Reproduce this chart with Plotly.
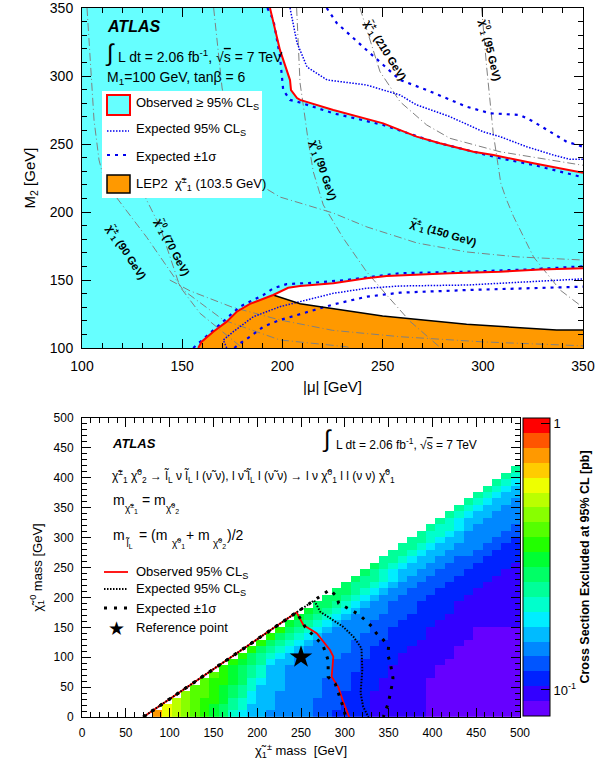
import math
import plotly.graph_objects as go

W, H = 611, 767

# ---------------- TOP PANEL DATA (|mu|, M2 in GeV) ----------------
obs_up_mu = [193.8, 198.8, 203.8, 204.3, 207.3, 208.8, 225.4, 250.3, 267.0, 278.6, 295.3, 305.3, 325.3, 338.6, 350.0]
obs_up_m2 = [350.0, 319.0, 297.0, 289.7, 283.8, 282.4, 275.0, 265.2, 255.4, 250.5, 244.3, 241.9, 235.8, 232.1, 228.9]

obs_lo_mu = [158.0, 159.7, 165.5, 172.2, 177.2, 183.8, 195.4, 202.9, 208.8, 225.4, 242.0, 252.0, 283.6, 308.6, 328.6, 350.0]
obs_lo_m2 = [100.0, 104.6, 112.0, 119.4, 126.7, 132.4, 139.0, 144.3, 145.6, 147.6, 151.3, 153.0, 155.0, 156.1, 157.8, 158.6]
APEX = 6  # index of the LEP2 corner on the lower observed line

lep_mu = [195.4, 208.8, 250.0, 291.9, 336.8, 350.0]
lep_m2 = [139.0, 132.5, 123.5, 117.4, 113.2, 113.2]

exp_up_mu = [203.8, 207.3, 212.3, 222.3, 242.0, 258.7, 267.0, 283.6, 300.2, 308.6, 321.9, 335.2, 343.5, 350.0]
exp_up_m2 = [350.0, 324.3, 306.6, 297.1, 293.4, 286.0, 278.7, 270.1, 259.0, 255.4, 248.0, 241.9, 238.7, 238.7]

sig_up_out_mu = [222.1, 227.1, 242.0, 258.7, 272.0, 292.0, 303.6, 318.6, 325.3, 333.5, 341.8, 350.0]
sig_up_out_m2 = [350.0, 339.0, 319.1, 297.1, 289.7, 277.4, 272.6, 271.3, 266.4, 259.0, 251.7, 248.0]
sig_up_in_mu = [192.5, 195.5, 198.8, 200.4, 203.8, 208.8, 225.4, 250.3, 275.3, 292.0, 308.6, 325.3, 348.5, 350.0]
sig_up_in_m2 = [350.0, 341.2, 314.2, 289.7, 282.4, 280.5, 272.6, 264.0, 251.7, 245.6, 239.5, 234.6, 226.0, 225.5]

exp_lo_mu = [172.2, 170.5, 175.5, 185.5, 198.8, 207.1, 225.4, 242.0, 258.7, 292.0, 325.3, 341.8, 350.0]
exp_lo_m2 = [100.0, 105.9, 112.0, 123.0, 130.4, 133.3, 140.2, 143.9, 145.6, 146.3, 148.8, 150.5, 150.8]
sig_lo_out_mu = [155.5, 165.5, 172.2, 178.8, 190.5, 195.5, 202.1, 215.4, 232.1, 245.4, 258.7, 292.0, 325.3, 350.0]
sig_lo_out_m2 = [100.0, 113.2, 121.8, 130.4, 139.0, 143.9, 147.0, 148.0, 150.0, 152.4, 155.0, 156.1, 157.9, 160.1]
sig_lo_in_mu = [176.0, 178.8, 183.8, 190.5, 198.8, 208.8, 225.4, 242.0, 258.7, 292.0, 325.3, 350.0]
sig_lo_in_m2 = [100.0, 103.4, 108.3, 115.7, 120.6, 125.0, 132.0, 137.7, 140.7, 142.6, 143.9, 145.1]

# iso-mass contours (grey dash-dot)
iso_a_mu = [102.5, 104.0, 106.0, 108.5, 111.5, 115.6, 132.3, 150.5, 170.5, 198.8, 232.1, 234.0]
iso_a_m2 = [350.0, 311.8, 267.6, 238.2, 221.3, 213.8, 181.4, 142.6, 120.6, 105.9, 100.9, 100.0]
iso_b_mu = [121.5, 130.6, 138.9, 148.9, 158.9, 178.8, 180.0]
iso_b_m2 = [245.6, 213.7, 189.2, 145.0, 125.5, 101.0, 100.0]
iso_c_mu = [143.8, 153.9, 175.0, 198.8, 225.0, 258.7, 300.0, 350.0]
iso_c_m2 = [150.0, 142.0, 130.0, 120.6, 113.0, 108.3, 104.5, 101.6]
iso_n90_mu = [207.1, 208.8, 210.4, 212.8, 215.4, 220.4, 230.4, 242.0, 252.0, 263.7, 278.6]
iso_n90_m2 = [350.0, 294.9, 278.7, 253.0, 229.7, 205.2, 180.7, 156.1, 139.0, 119.6, 100.5]
iso_c210_mu = [238.7, 248.7, 258.7, 272.0, 283.6, 308.6, 349.3, 350.0]
iso_c210_m2 = [350.0, 303.2, 281.1, 264.0, 254.2, 244.3, 234.5, 234.4]
iso_n95_mu = [299.4, 301.9, 305.2, 309.0, 311.9, 315.3, 325.3, 338.6, 350.0]
iso_n95_m2 = [350.0, 306.9, 258.0, 221.0, 208.8, 196.8, 167.0, 142.6, 129.8]
iso_c150_mu = [165.7, 167.9, 169.9, 173.9, 181.3, 188.8, 198.8, 208.8, 225.2, 242.2, 267.2, 292.1, 317.1, 350.0]
iso_c150_m2 = [350.0, 319.1, 291.2, 260.3, 234.6, 219.9, 211.0, 206.6, 199.3, 189.0, 177.2, 170.6, 167.0, 164.7]

# ---------------- BOTTOM PANEL DATA ----------------
GRID_X0, GRID_Y0, GRID_BIN, NBIN = 70.0, 0.0, 10.75, 40
# colour level of each cell, run-length coded per row
# row j starts at column j+1 ; (level, count)
cell_rows = [
    [(17,1),(15,1),(14,1),(13,1),(12,1),(11,1),(10,1),(9,1),(7,1),(6,1),(5,2),(4,5),(3,2),(2,4),(1,6),(0,10)],
    [(15,1),(14,1),(13,1),(12,1),(11,1),(10,1),(9,1),(8,1),(7,1),(5,3),(4,4),(3,3),(2,3),(1,6),(0,10)],
    [(14,1),(13,1),(12,1),(11,2),(10,1),(8,1),(7,1),(6,1),(5,2),(4,4),(3,3),(2,3),(1,6),(0,10)],
    [(13,1),(12,2),(11,1),(10,1),(9,1),(8,1),(6,1),(5,2),(4,5),(3,2),(2,3),(1,6),(0,10)],
    [(12,2),(11,1),(10,1),(9,1),(8,1),(7,1),(5,3),(4,4),(3,3),(2,3),(1,5),(0,10)],
    [(12,1),(11,2),(10,1),(9,1),(7,1),(6,1),(5,2),(4,4),(3,3),(2,3),(1,5),(0,10)],
    [(12,1),(11,1),(10,1),(9,1),(8,1),(7,1),(5,2),(4,5),(3,2),(2,4),(1,5),(0,9)],
    [(11,1),(10,1),(9,1),(8,1),(7,1),(5,2),(4,5),(3,3),(2,3),(1,5),(0,9)],
    [(11,1),(10,1),(9,1),(8,1),(6,1),(5,2),(4,4),(3,3),(2,4),(1,5),(0,8)],
    [(11,1),(9,1),(8,1),(7,1),(6,1),(5,1),(4,5),(3,3),(2,3),(1,6),(0,7)],
    [(11,1),(9,1),(8,1),(7,1),(6,1),(5,1),(4,5),(3,2),(2,4),(1,5),(0,7)],
    [(11,1),(9,1),(8,1),(7,1),(6,1),(5,1),(4,4),(3,3),(2,4),(1,5),(0,6)],
    [(11,1),(9,1),(8,1),(7,1),(6,1),(5,1),(4,4),(3,3),(2,4),(1,5),(0,5)],
    [(11,1),(9,1),(8,1),(7,1),(6,1),(5,1),(4,4),(3,2),(2,4),(1,5),(0,5)],
    [(10,1),(9,1),(8,1),(7,1),(6,1),(5,1),(4,3),(3,3),(2,4),(1,9)],
    [(10,1),(9,1),(8,1),(7,1),(6,1),(5,1),(4,3),(3,3),(2,4),(1,8)],
    [(10,1),(9,1),(8,1),(7,1),(6,1),(5,1),(4,3),(3,3),(2,4),(1,7)],
    [(9,2),(8,1),(7,1),(6,1),(5,1),(4,2),(3,3),(2,4),(1,7)],
    [(9,2),(8,1),(7,1),(6,1),(5,1),(4,2),(3,3),(2,4),(1,6)],
    [(9,2),(8,1),(7,1),(6,1),(5,1),(4,2),(3,3),(2,4),(1,5)],
    [(9,1),(8,2),(7,1),(6,1),(5,1),(4,2),(3,3),(2,4),(1,4)],
    [(9,1),(8,2),(7,1),(6,1),(5,1),(4,2),(3,3),(2,4),(1,3)],
    [(9,1),(8,1),(7,1),(6,1),(5,2),(4,2),(3,3),(2,4),(1,2)],
    [(9,1),(8,1),(7,1),(6,1),(5,2),(4,2),(3,3),(2,4),(1,1)],
    [(8,2),(7,1),(6,1),(5,2),(4,2),(3,3),(2,4)],
    [(8,2),(7,1),(6,1),(5,2),(4,3),(3,2),(2,3)],
    [(8,2),(7,1),(6,1),(5,2),(4,3),(3,2),(2,2)],
    [(8,2),(7,1),(6,1),(5,2),(4,3),(3,2),(2,1)],
    [(8,1),(7,2),(6,1),(5,1),(4,4),(3,2)],
    [(8,1),(7,2),(6,1),(5,1),(4,4),(3,1)],
    [(8,1),(7,1),(6,1),(5,2),(4,4)],
    [(8,1),(7,1),(6,1),(5,2),(4,3)],
    [(8,1),(7,1),(6,1),(5,2),(4,2)],
    [(8,1),(7,1),(6,1),(5,2),(4,1)],
    [(8,1),(7,1),(6,1),(5,2)],
    [(8,1),(7,1),(6,1),(5,1)],
    [(8,1),(7,1),(6,1)],
    [(8,1),(7,1)],
    [(8,1)],
]
level_colors = ["#6600ff", "#3300ff", "#0022ff", "#0055ff", "#0088ff", "#00bbff", "#00eeff",
                "#00ffcc", "#00ff99", "#00ff66", "#00ff33", "#22ff00", "#55ff00", "#88ff00",
                "#bbff00", "#eeff00", "#ffcc00", "#ff9900", "#ff5500", "#ff0000"]
LOG_MIN, LOG_MAX = -1.0976, 0.0206   # colour axis range, log10(pb)
cbar_major_pb = [0.1, 1.0]
cbar_major_txt = ["10<sup>-1</sup>", "1"]
cbar_minor_pb = [0.09, 0.2, 0.3, 0.4, 0.5, 0.6, 0.7, 0.8, 0.9]

obs_b_x = [70, 245, 252.7, 267.9, 283.1, 286.9, 285.0, 292.6, 298.3, 305.0]
obs_b_y = [0, 175, 153.8, 140.0, 112.0, 100.8, 67.4, 50.0, 25.0, 0]
exp_b_x = [70, 265, 272, 283, 298, 310, 319, 320, 318, 321, 327]
exp_b_y = [0, 195, 176, 165, 151, 134, 115, 79, 40, 17, 0]
sigm_b_x = [70, 245, 255, 266, 275, 281, 281, 289, 293, 298, 301]
sigm_b_y = [0, 175, 150, 134, 120, 95, 67, 56, 40, 17, 0]
sigp_b_x = [70, 283, 291, 293, 300, 310, 317, 325, 331, 336, 344, 350, 349, 352, 355, 353.5, 351.6, 349.7, 346, 344]
sigp_b_y = [0, 213, 201, 190, 184.5, 176, 170.6, 159.4, 151, 140, 129, 117.6, 104, 90, 65, 51, 37, 23, 9, 0]
ref_point = (250, 100)

# ---------------- helpers ----------------
def px(x, y):
    return x / W, 1 - y / H

FONT = "Liberation Sans, Arial, Helvetica, sans-serif"
CYAN, ORANGE, BLUE, GREY = "#66ffff", "#ff9900", "#0000ee", "#808080"

fig = go.Figure()

# ---- top panel polygons ----
fig.add_trace(go.Scatter(x=obs_up_mu + [350, obs_up_mu[0]], y=obs_up_m2 + [350, obs_up_m2[0]],
                         fill="toself", fillcolor="white", line=dict(width=0), mode="lines",
                         hoverinfo="skip", xaxis="x", yaxis="y"))
lw_x = obs_lo_mu[APEX:] + lep_mu[::-1]
lw_y = obs_lo_m2[APEX:] + lep_m2[::-1]
fig.add_trace(go.Scatter(x=lw_x, y=lw_y, fill="toself", fillcolor="white", line=dict(width=0),
                         mode="lines", hoverinfo="skip", xaxis="x", yaxis="y"))
or_x = obs_lo_mu[:APEX + 1] + lep_mu[1:] + [350, obs_lo_mu[0]]
or_y = obs_lo_m2[:APEX + 1] + lep_m2[1:] + [100, obs_lo_m2[0]]
fig.add_trace(go.Scatter(x=or_x, y=or_y, fill="toself", fillcolor=ORANGE, line=dict(width=0),
                         mode="lines", hoverinfo="skip", xaxis="x", yaxis="y"))

for xs, ys in [(iso_a_mu, iso_a_m2), (iso_b_mu, iso_b_m2), (iso_c_mu, iso_c_m2), (iso_n90_mu, iso_n90_m2),
               (iso_c210_mu, iso_c210_m2), (iso_n95_mu, iso_n95_m2), (iso_c150_mu, iso_c150_m2)]:
    fig.add_trace(go.Scatter(x=xs, y=ys, mode="lines", line=dict(color=GREY, width=1, dash="8px,3px,1px,3px"),
                             hoverinfo="skip", xaxis="x", yaxis="y"))

for xs, ys in [(exp_up_mu, exp_up_m2), (exp_lo_mu, exp_lo_m2)]:
    fig.add_trace(go.Scatter(x=xs, y=ys, mode="lines", line=dict(color=BLUE, width=1.5, dash="1.5px,1.5px"),
                             hoverinfo="skip", xaxis="x", yaxis="y"))
for xs, ys in [(sig_up_out_mu, sig_up_out_m2), (sig_up_in_mu, sig_up_in_m2),
               (sig_lo_out_mu, sig_lo_out_m2), (sig_lo_in_mu, sig_lo_in_m2)]:
    fig.add_trace(go.Scatter(x=xs, y=ys, mode="lines", line=dict(color=BLUE, width=2.2, dash="3px,5px"),
                             hoverinfo="skip", xaxis="x", yaxis="y"))
fig.add_trace(go.Scatter(x=lep_mu, y=lep_m2, mode="lines", line=dict(color="black", width=1.5),
                         hoverinfo="skip", xaxis="x", yaxis="y"))
for xs, ys in [(obs_up_mu, obs_up_m2), (obs_lo_mu, obs_lo_m2)]:
    fig.add_trace(go.Scatter(x=xs, y=ys, mode="lines", line=dict(color="red", width=2),
                             hoverinfo="skip", xaxis="x", yaxis="y"))

# ---- bottom panel heatmap ----
z = [[None] * NBIN for _ in range(NBIN)]
for j, row in enumerate(cell_rows):
    i = j + 1
    for lev, cnt in row:
        for _ in range(cnt):
            z[j][i] = lev + 0.5
            i += 1
x_edges = [GRID_X0 + GRID_BIN * k for k in range(NBIN + 1)]
y_edges = [GRID_Y0 + GRID_BIN * k for k in range(NBIN + 1)]
nlev = len(level_colors)
cscale = []
for k, c in enumerate(level_colors):
    cscale.append([k / nlev, c])
    cscale.append([(k + 1) / nlev, c])

def lev_of(pb):
    return (math.log10(pb) - LOG_MIN) / (LOG_MAX - LOG_MIN) * nlev

CB_X0, CB_X1, CB_Y0, CB_Y1 = 523, 550, 418, 716   # colour bar box in pixels
fig.add_trace(go.Heatmap(
    x=x_edges, y=y_edges, z=z, zmin=0, zmax=nlev, colorscale=cscale, hoverinfo="skip",
    xaxis="x2", yaxis="y2",
    colorbar=dict(
        x=CB_X0 / W, xanchor="left", y=1 - (CB_Y0 + CB_Y1) / 2 / H, yanchor="middle",
        lenmode="pixels", len=CB_Y1 - CB_Y0, thickness=CB_X1 - CB_X0,
        outlinewidth=1, outlinecolor="black",
        tickmode="array", tickvals=[lev_of(v) for v in cbar_major_pb], ticktext=cbar_major_txt,
        ticks="inside", ticklen=9, tickcolor="black", tickfont=dict(family=FONT, size=13, color="black"),
        title=dict(text="<b>Cross Section Excluded at 95% CL [pb]</b>", side="right",
                   font=dict(family=FONT, size=12.5, color="black")),
        xpad=0, ypad=0,
    )))

fig.add_trace(go.Scatter(x=obs_b_x, y=obs_b_y, mode="lines", line=dict(color="red", width=1.8),
                         hoverinfo="skip", xaxis="x2", yaxis="y2"))
fig.add_trace(go.Scatter(x=exp_b_x, y=exp_b_y, mode="lines", line=dict(color="black", width=2, dash="1.5px,1.5px"),
                         hoverinfo="skip", xaxis="x2", yaxis="y2"))
for xs, ys in [(sigm_b_x, sigm_b_y), (sigp_b_x, sigp_b_y)]:
    fig.add_trace(go.Scatter(x=xs, y=ys, mode="lines", line=dict(color="black", width=3, dash="3px,7px"),
                             hoverinfo="skip", xaxis="x2", yaxis="y2"))
fig.add_trace(go.Scatter(x=[ref_point[0]], y=[ref_point[1]], mode="markers",
                         marker=dict(symbol="star", size=17, color="black"), hoverinfo="skip",
                         xaxis="x2", yaxis="y2"))

# ---- axes ----
def ax(domain, rng, dtick, minor, fsize, title, anchor, standoff):
    return dict(domain=domain, range=rng, dtick=dtick, tick0=0, ticks="inside", ticklen=9,
                tickcolor="black", showline=True, linecolor="black", linewidth=1, mirror="allticks",
                showgrid=False, zeroline=False, anchor=anchor, automargin=False,
                ticklabeloverflow="allow",
                minor=dict(dtick=minor, ticks="inside", ticklen=5, tickcolor="black", showgrid=False),
                tickfont=dict(family=FONT, size=fsize, color="black"),
                title=dict(text=title, font=dict(family=FONT, size=fsize + 1, color="black"), standoff=standoff),
                ticklabelstandoff=5)

fig.update_layout(
    width=W, height=H, margin=dict(l=0, r=0, t=0, b=0, autoexpand=False),
    paper_bgcolor="white", plot_bgcolor="white", showlegend=False,
    xaxis=ax([82 / W, 583 / W], [100, 350], 50, 10, 14, "|μ| [GeV]", "y", 8),
    yaxis=ax([1 - 348 / H, 1 - 8 / H], [100, 350], 50, 10, 14, "M<sub>2</sub> [GeV]", "x", 10),
    xaxis2=ax([82 / W, 520 / W], [0, 500], 50, 10, 12, "χ̃<sub>1</sub><sup>±</sup> mass  [GeV]", "y2", 6),
    yaxis2=ax([1 - 717 / H, 1 - 418 / H], [0, 500], 50, 10, 12, "χ̃<sub>1</sub><sup>0</sup> mass [GeV]", "x2", 8),
)

shapes = [dict(type="rect", xref="x", yref="y", x0=100, x1=350, y0=100, y1=350, fillcolor=CYAN,
               line=dict(width=0), layer="below")]

def prect(x0, y0, x1, y1, **kw):
    a, b = px(x0, y0); c, d = px(x1, y1)
    return dict(type="rect", xref="paper", yref="paper", x0=a, y0=d, x1=c, y1=b, layer="above", **kw)

def pline(x0, y0, x1, y1, **kw):
    a, b = px(x0, y0); c, d = px(x1, y1)
    return dict(type="line", xref="paper", yref="paper", x0=a, y0=b, x1=c, y1=d, layer="above", **kw)

shapes += [
    prect(102, 91, 262, 198, fillcolor="white", line=dict(width=0)),
    prect(107, 95, 130, 115, fillcolor=CYAN, line=dict(color="red", width=2)),
    pline(107, 131, 129, 131, line=dict(color=BLUE, width=1.5, dash="1.5px,1.5px")),
    pline(107, 155, 129, 155, line=dict(color=BLUE, width=2.2, dash="3px,5px")),
    prect(107, 175, 130, 193, fillcolor=ORANGE, line=dict(color="black", width=1.5)),
    pline(104, 572, 128, 572, line=dict(color="red", width=1.8)),
    pline(104, 589, 128, 589, line=dict(color="black", width=2, dash="1.5px,1.5px")),
    pline(104, 608, 128, 608, line=dict(color="black", width=3, dash="3px,7px")),
]
# minor ticks of the colour bar (log scale), drawn inward from its right edge
for v in cbar_minor_pb:
    yy = CB_Y1 - lev_of(v) / nlev * (CB_Y1 - CB_Y0)
    shapes.append(pline(CB_X1 - 5, yy, CB_X1, yy, line=dict(color="black", width=1)))
fig.update_layout(shapes=shapes)

ann = []
def txt(x, y, s, size=13, anchor="left", angle=0, yanchor="middle"):
    a, b = px(x, y)
    ann.append(dict(x=a, y=b, xref="paper", yref="paper", text=s, showarrow=False, xanchor=anchor,
                    yanchor=yanchor, textangle=angle, font=dict(family=FONT, size=size, color="black")))

ov = "<span style='text-decoration:overline'>s</span>"
# top panel
txt(105, 27, "<b><i>ATLAS</i></b>", 16)
txt(103, 53, "∫", 24)
txt(116, 56, "L dt = 2.06 fb<sup>-1</sup>, √" + ov + " = 7 TeV", 14)
txt(105, 78, "M<sub>1</sub>=100 GeV, tanβ = 6", 14)
txt(134, 104, "Observed ≥ 95% CL<sub>S</sub>", 13)
txt(134, 129, "Expected 95% CL<sub>S</sub>", 13)
txt(134, 156, "Expected ±1σ", 13)
txt(134, 184, "LEP2  χ̃<sup>±</sup><sub>1</sub> (103.5 GeV)", 13)
txt(126, 252, "<b>χ̃<sup>±</sup><sub>1</sub> (90 GeV)</b>", 11, "center", 57)
txt(172, 247, "<b>χ̃<sup>0</sup><sub>1</sub> (70 GeV)</b>", 11, "center", 63)
txt(323, 170, "<b>χ̃<sup>0</sup><sub>1</sub> (90 GeV)</b>", 11, "center", 72)
txt(385, 50, "<b>χ̃<sup>±</sup><sub>1</sub> (210 GeV)</b>", 11, "center", 58)
txt(490, 50, "<b>χ̃<sup>0</sup><sub>1</sub> (95 GeV)</b>", 11, "center", 77)
txt(443, 233, "<b>χ̃<sup>±</sup><sub>1</sub> (150 GeV)</b>", 11, "center", 17)
# bottom panel
txt(110, 443, "<b><i>ATLAS</i></b>", 13)
txt(320, 439, "∫", 24)
txt(334, 444, "L dt = 2.06 fb<sup>-1</sup>, √" + ov + " = 7 TeV", 12)
txt(110, 476, "χ̃<sup>±</sup><sub>1</sub> χ̃<sup>0</sup><sub>2</sub> → l̃<sub>L</sub> ν l̃<sub>L</sub> l (ν̃ ν), "
              "l ν̃ l̃<sub>L</sub> l (ν̃ ν) → l ν χ̃<sup>0</sup><sub>1</sub> l l (ν ν) χ̃<sup>0</sup><sub>1</sub>", 12)
# mass relations, built from pieces (main symbol + small stacked subscript)
txt(111, 500, "m", 14)
txt(123, 508, "χ̃<sup>±</sup><sub>1</sub>", 10)
txt(140, 500, "= m", 14)
txt(164, 508, "χ̃<sup>0</sup><sub>2</sub>", 10)
txt(111, 535, "m", 14)
txt(123, 543, "l̃<sub>L</sub>", 10)
txt(137, 535, "= (m", 14)
txt(170, 543, "χ̃<sup>0</sup><sub>1</sub>", 10)
txt(184, 535, "+ m", 14)
txt(211, 543, "χ̃<sup>0</sup><sub>2</sub>", 10)
txt(225, 535, ")/2", 14)
txt(134, 572, "Observed 95% CL<sub>S</sub>", 13)
txt(134, 589, "Expected 95% CL<sub>S</sub>", 13)
txt(134, 608, "Expected ±1σ", 13)
txt(116, 628, "★", 19, "center")
txt(134, 627, "Reference point", 13)
fig.update_layout(annotations=ann)

fig.write_html("out.html", config={"displayModeBar": False},
               post_script="document.body.style.margin='0';")
